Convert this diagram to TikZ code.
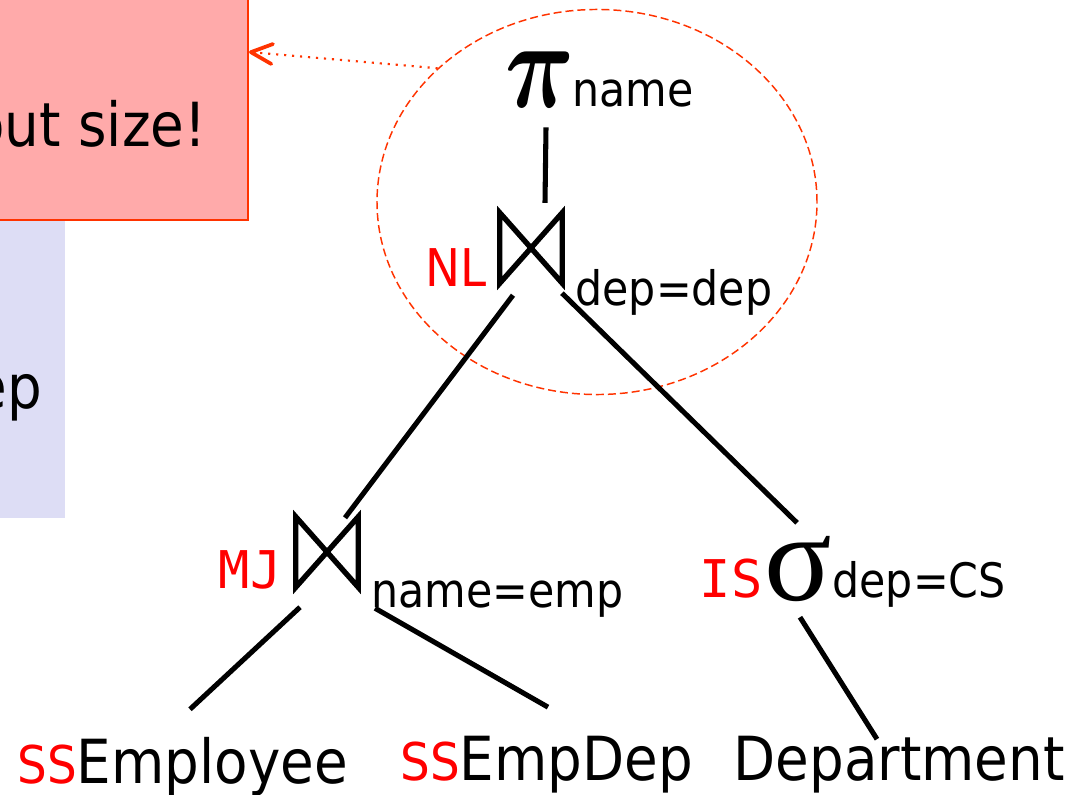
\documentclass[tikz,border=0pt]{standalone}
\usepackage{fontspec}
\setmainfont{DejaVu Sans Condensed}
\newfontfamily\monofont{DejaVu Sans Mono}
\newfontfamily\greekfont{Liberation Serif}
\usetikzlibrary{calc}
\usetikzlibrary{shapes.geometric}
\usetikzlibrary{arrows.meta}
\definecolor{notefill}{RGB}{255,170,170}
\definecolor{noteline}{RGB}{255,51,0}
\definecolor{sidefill}{RGB}{221,221,245}
\newcommand{\mainsize}{\fontsize{22.8}{27}\selectfont}
\newcommand{\subsize}{\fontsize{17.8}{21}\selectfont}
\newcommand{\algsize}{\fontsize{19.5}{23}\selectfont}
\newcommand{\alg}[1]{{\algsize\color{red}#1}}
\newcommand{\malg}[1]{{\algsize\monofont\color{red}#1}}
\tikzset{op/.style={inner sep=0pt},
 txt/.style={inner sep=0pt, font=\mainsize},
 cond/.style={inner sep=0pt, font=\subsize, anchor=base west},
 alglbl/.style={inner sep=0pt, anchor=base east},
 tie/.style={minimum width=23pt, minimum height=26pt, inner sep=0pt},
 edge/.style={line width=1.9pt},
 }

\begin{document}
\begin{tikzpicture}[x=0.375pt, y=-0.375pt]
        \useasboundingbox (0,0) rectangle (1075,795);
        \clip (0,0) rectangle (1075,795);
        % boxes at the left
        \node (side) [fill=sidefill, inner sep=0pt, minimum width=136.9pt, minimum height=231.75pt] at (-117.5,209) {};
        \node[txt, anchor=base east] at ($(side.east)+(-23,199)$) {ep};
        \node (note) [fill=notefill, draw=noteline, line width=0.75pt, inner sep=0pt, minimum width=205.5pt, minimum height=126pt] at (-26,52) {};
        \node[txt, anchor=base east] at ($(note.east)+(-42,95)$) {out size!};
        \node (focus) [ellipse, draw=noteline, line width=0.55pt, dash pattern=on 3pt off 1.5pt, inner sep=0pt, minimum width=165pt, minimum height=144.4pt] at (597,202) {};
        \draw[noteline, line width=0.8pt, dash pattern=on 0.8pt off 2.2pt, -{Straight Barb[length=8pt, width=7.5pt, line width=1.4pt, round]}] (focus.140) -- (note.east);
        % operators
        \node (proj) [op] at (540,80) {\scalebox{3.6}[4.7]{\boldmath$\pi$}};
        \node[cond] at (572,107) {name};
        \node (nl) [tie] at (531,248) {};
        \node[alglbl] at (487,286) {\alg{NL}};
        \node[cond] at (575,305) {dep=dep};
        \node (mj) [tie] at (327,552) {};
        \node[alglbl] at (282,588) {\malg{MJ}};
        \node[cond] at (371,607) {name=emp};
        \node (sel) [op] at (798,569) {{\greekfont\fontsize{47}{47}\selectfont σ}};
        \node[alglbl] at (763,597) {\malg{IS}};
        \node[cond] at (832,597) {dep=CS};
        % relations
        \node (emp) [txt, anchor=base west] at (17,783) {\alg{SS}Employee};
        \node (empdep) [txt, anchor=base west] at (400,780) {\alg{SS}EmpDep};
        \node (dept) [txt, anchor=base west] at (733,780) {Department};
        \foreach \j in {nl, mj} {
            \draw[line width=2pt, line join=miter] (\j.north west) -- (\j.south east) -- (\j.north east) -- (\j.south west) -- cycle;
        }
        \draw[edge] ($(proj.south)+(6,19)$) -- ($(nl.north)+(14,-10)$);
        \draw[edge] ($(nl.south)+(-18,12)$) -- ($(mj.north)+(18,1)$);
        \draw[edge] ($(nl.south)+(31,10)$) -- ($(sel.north)+(-1,-13)$);
        \draw[edge] ($(mj.south)+(-27,20)$) -- ($(emp.north west)+(173,-27)$);
        \draw[edge] ($(mj.south)+(48,21)$) -- ($(empdep.north west)+(148,-28)$);
        \draw[edge] ($(sel.south)+(2,15)$) -- ($(dept.north west)+(144,4)$);
    \end{tikzpicture}
\end{document}
